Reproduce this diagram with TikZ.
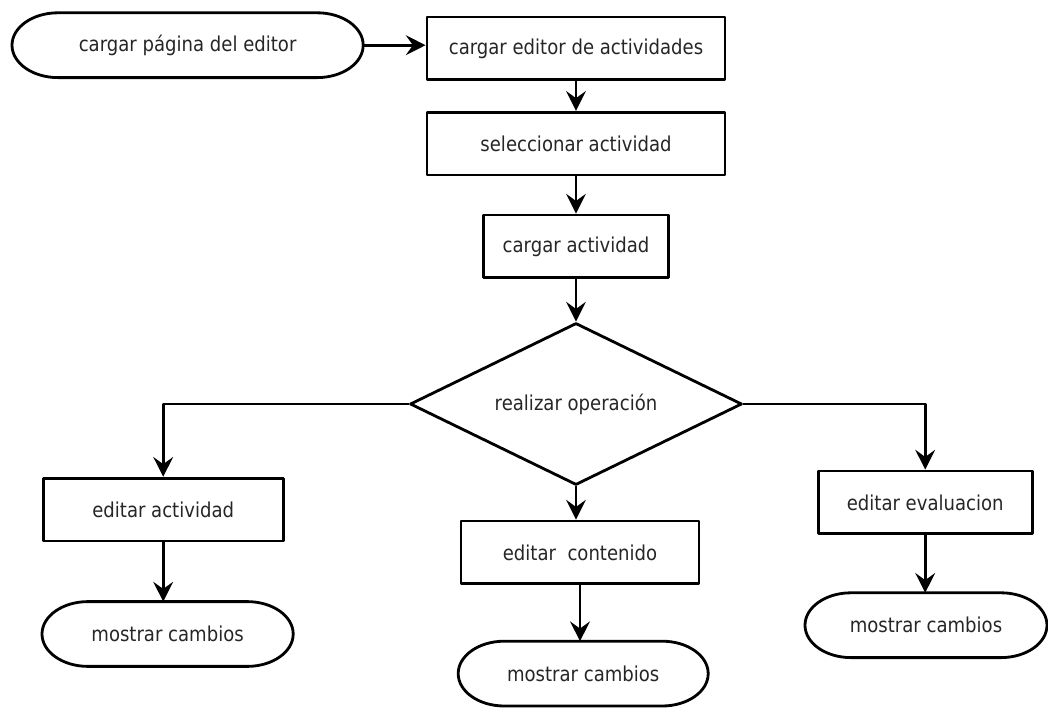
\documentclass[tikz,border=0pt]{standalone}
\usepackage{fontspec}
\setmainfont{DejaVu Sans}[FakeStretch=0.88]
\usetikzlibrary{shapes.geometric,arrows.meta}
\begin{document}
\begin{tikzpicture}[line join=round,>={Stealth[length=14pt,width=14pt,inset=5pt]},font=\fontsize{14.6pt}{17pt}\selectfont]
		%\draw[gray!50] (0,0) grid (26,-18);
		\useasboundingbox (0,0) rectangle (26.2,-17.7);
		\def\rx{1.15cm}
		\tikzset{
			caja/.style={draw,line width=2pt,text=black!85,inner sep=0pt},
			proceso/.style={caja,rectangle,minimum width=#1,minimum height=1.57cm},
			terminal/.style={caja,draw=none,outer sep=0pt,rectangle,minimum width=#1,minimum height=1.62cm,
				append after command={\pgfextra{
						\draw[line width=2pt] ([xshift=\rx]\tikzlastnode.north west)
						-- ([xshift=-\rx]\tikzlastnode.north east)
						arc[start angle=90,end angle=-90,x radius=\rx,y radius=0.81cm]
						-- ([xshift=\rx]\tikzlastnode.south west)
						arc[start angle=270,end angle=90,x radius=\rx,y radius=0.81cm]
						-- cycle;}}},
			flecha/.style={->,line width=2pt}
		}
		
		\node[terminal=8.78cm] (inicio) at (4.69,-1.13) {cargar página del editor};
		\node[proceso=7.45cm] (cargaEd) at (14.4,-1.21) {cargar editor de actividades};
		\node[proceso=7.45cm] (selAct) at (14.4,-3.59) {seleccionar actividad};
		\node[proceso=4.63cm] (cargaAct) at (14.4,-6.16) {cargar actividad};
		\node[caja,diamond,aspect=2.05,minimum width=8.3cm,minimum height=4.05cm] (oper) at (14.4,-10.1) {realizar operación};
		
		\node[proceso=6cm] (edAct) at (4.08,-12.74) {editar actividad};
		\node[proceso=5.95cm] (edCont) at (14.5,-13.81) {editar\ \ contenido};
		\node[proceso=5.35cm] (edEval) at (23.13,-12.56) {editar evaluacion};
		
		\node[terminal=6.28cm] (finAct) at (4.19,-15.85) {mostrar cambios};
		\node[terminal=6.25cm] (finCont) at (14.58,-16.84) {mostrar cambios};
		\node[terminal=6.05cm] (finEval) at (23.15,-15.63) {mostrar cambios};
		
		\draw[flecha] (inicio.east) -- (inicio.east -| cargaEd.west);
		\draw[flecha] (cargaEd) -- (selAct);
		\draw[flecha] (selAct) -- (cargaAct);
		\draw[flecha] (cargaAct) -- (oper);
		\draw[flecha] (oper.west) -| (edAct.north);
		\draw[flecha] (oper.east) -| (edEval.north);
		\draw[flecha] (oper.south) -- (oper.south |- edCont.north);
		\draw[flecha] (edAct.south) -- (edAct.south |- finAct.north);
		\draw[flecha] (edCont.south) -- (edCont.south |- finCont.north);
		\draw[flecha] (edEval.south) -- (edEval.south |- finEval.north);
	\end{tikzpicture}
\end{document}
